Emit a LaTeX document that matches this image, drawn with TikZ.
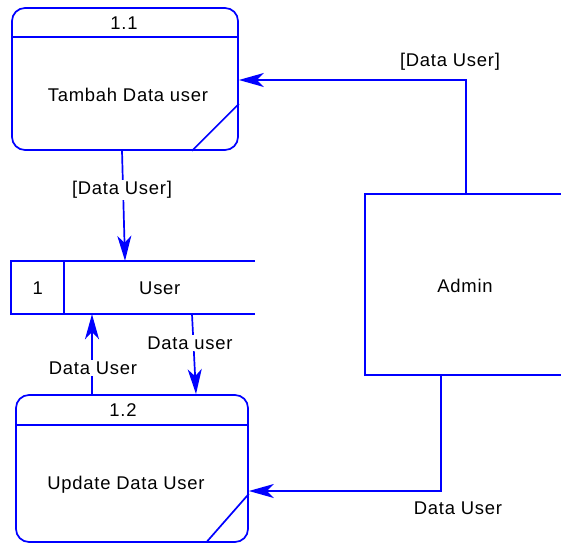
\documentclass[tikz,border=0pt]{standalone}
\usepackage{fontspec}
\setmainfont{Liberation Sans}[LetterSpace=4]
\usetikzlibrary{arrows.meta,calc}
\definecolor{dfd}{RGB}{0,0,255}
\begin{document}
\begin{tikzpicture}[x=1bp,y=-1bp,
  every node/.style={font=\fontsize{18.5}{21}\selectfont,inner sep=0pt},
  line/.style={draw=dfd,line width=1.7bp},
  flow/.style={line,-{Stealth[length=25bp,width=14bp,inset=7bp]}},
  proc/.style={line,rounded corners=13bp},
  lbl/.style={fill=white,inner sep=1.5bp}]
\useasboundingbox (0,0) rectangle (561,543);
% process 1.1
\node[proc,minimum width=226bp,minimum height=142bp] (p11) at (125,79) {};
\draw[line] ($(p11.north west)+(0,30)$) -- ($(p11.north east)+(0,30)$);
\draw[line] ($(p11.south east)+(0,-47)$) -- ($(p11.south east)+(-47,0)$);
\node (p11n) at ($(p11.north)+(-1,16)$) {1.1};
\node (p11t) at ($(p11.center)+(3,16)$) {Tambah Data user};
% process 1.2
\node[proc,minimum width=232bp,minimum height=147bp] (p12) at (132,468.5) {};
\draw[line] ($(p12.north west)+(0,31)$) -- ($(p12.north east)+(0,31)$);
\draw[line] ($(p12.south east)+(0,-49)$) -- ($(p12.south east)+(-43,0)$);
\node (p12n) at ($(p12.north)+(-9,16)$) {1.2};
\node (p12t) at ($(p12.center)+(-6,16)$) {Update Data User};
% data store
\node[minimum width=244bp,minimum height=53bp] (store) at (133,287.5) {};
\draw[line] (store.north east) -- (store.north west) -- (store.south west) -- (store.south east);
\draw[line] ($(store.north west)+(53,0)$) -- ($(store.south west)+(53,0)$);
\node (storeid) at ($(store.west)+(27,0.5)$) {1};
\node (storet) at ($(store.west)+(149,0.5)$) {User};
% external entity
\node[minimum width=196bp,minimum height=181bp] (admin) at (463,284.5) {};
\draw[line] (admin.north east) -- (admin.north west) -- (admin.south west) -- (admin.south east);
\node (admint) at (465,286) {Admin};
% connectors
\coordinate (j1) at (466,80);
\coordinate (j2) at (441,491);
\coordinate (j3) at (92,0);
\draw[flow] (admin.north -| j1) -- (j1) -- (p11.east |- j1);
\draw[flow] (admin.south -| j2) -- (j2) -- (p12.east |- j2);
\draw[flow] ($(p11.south)+(-3,0)$) -- ($(store.north)+(-8,0)$);
\draw[flow] (p12.north -| j3) -- (store.south -| j3);
\draw[flow] ($(store.south)+(59,0)$) -- ($(p12.north)+(64,0)$);
% labels
\node[lbl] (l1) at (450,62) {[Data User]};
\node[lbl] (l2) at (122,190) {[Data User]};
\node[lbl] (l3) at (190,343) {Data user};
\node[lbl] (l4) at (93,368) {Data User};
\node[lbl] (l5) at (458,508) {Data User};
\end{tikzpicture}
\end{document}
